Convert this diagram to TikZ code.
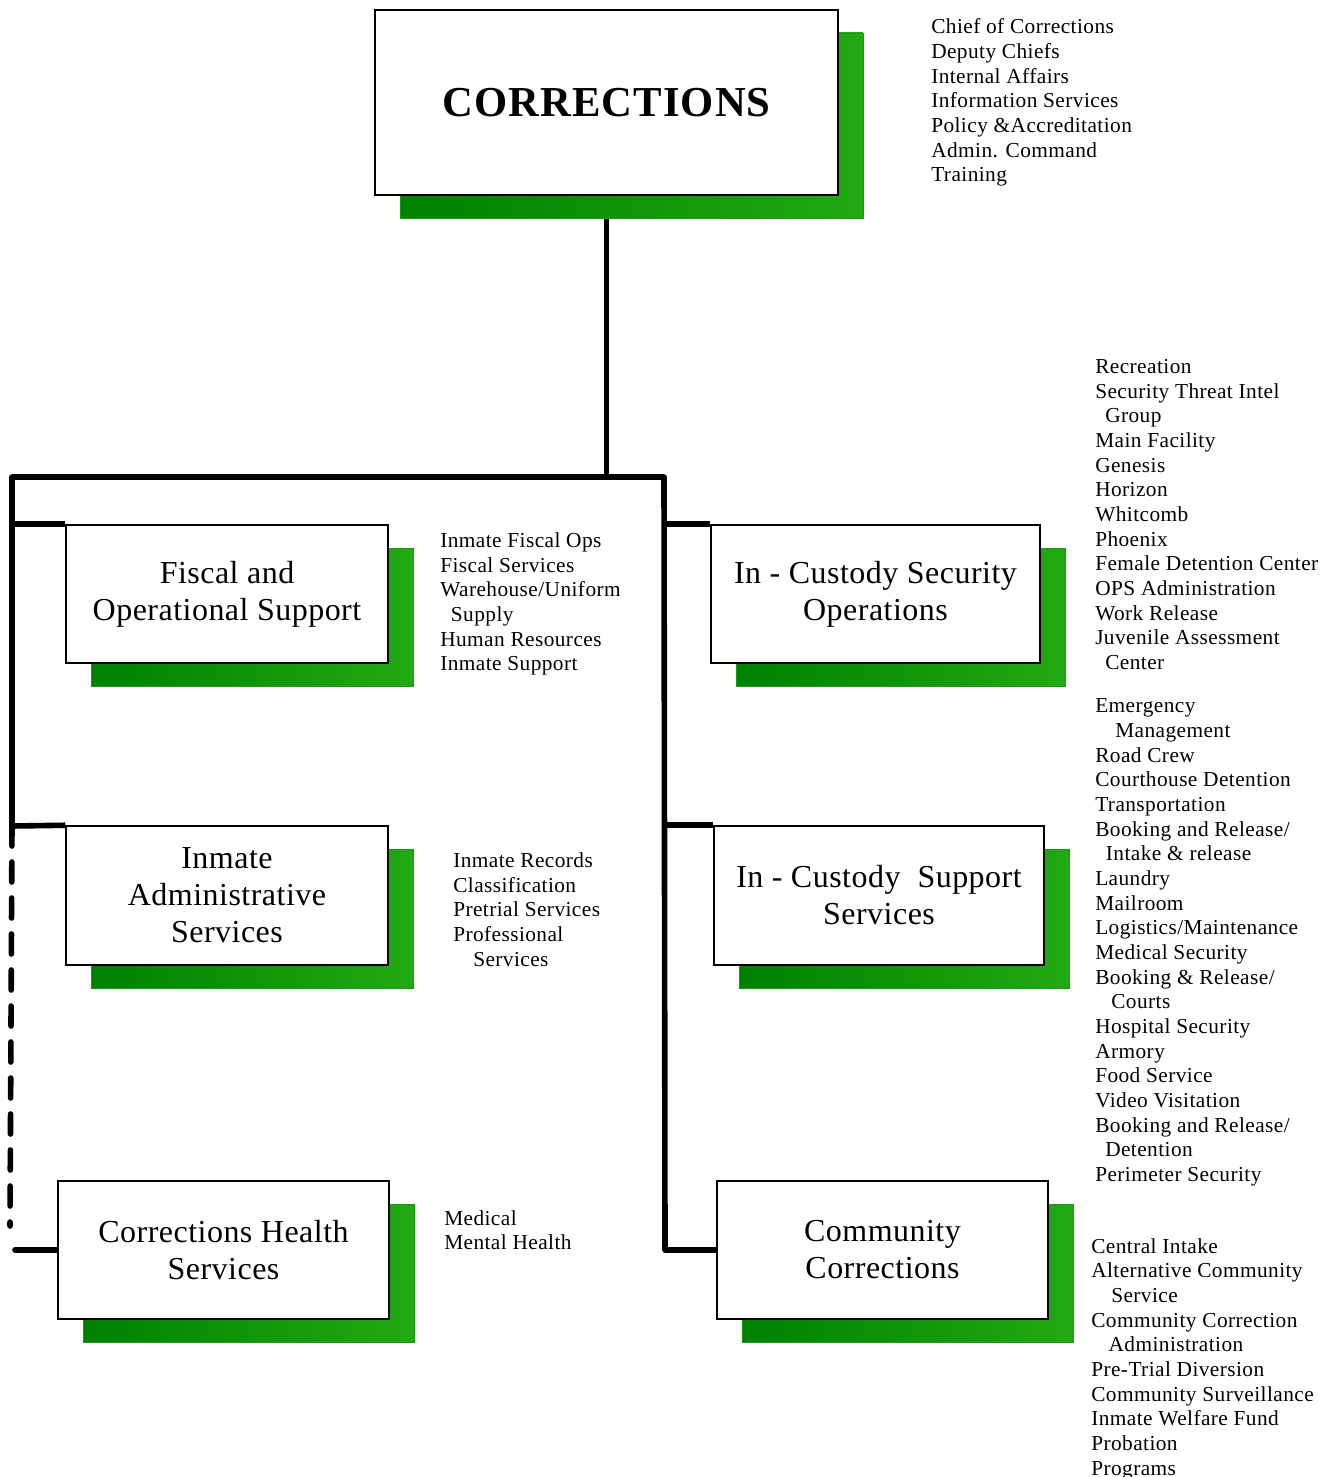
\documentclass[tikz,border=0pt]{standalone}
\usepackage{fontspec}
\setmainfont{Liberation Serif}
\newfontfamily\listfont[LetterSpace=2]{Liberation Serif}
\newfontfamily\boxfont[LetterSpace=1.5]{Liberation Serif}
\newfontfamily\headfont[LetterSpace=2.5]{Liberation Serif}
\usetikzlibrary{shadows}
\definecolor{corrGreenDk}{HTML}{008000}
\definecolor{corrGreenLt}{HTML}{22AA11}
\definecolor{corrEdge}{HTML}{189A10}
\pgfdeclarelayer{background}
\pgfsetlayers{background,main}
\tikzset{
  unitbox/.style={rectangle,draw=black,line width=1.1pt,fill=white,align=center,
    font=\boxfont\fontsize{24}{27.75}\selectfont,
    drop shadow={shadow xshift=18.75pt,shadow yshift=-17.25pt,opacity=1,
      left color=corrGreenDk,right color=corrGreenLt,draw=corrEdge,line width=0.6pt}},
  headbox/.style={unitbox,font=\headfont\bfseries\fontsize{32}{36}\selectfont},
  sublist/.style={anchor=north west,inner sep=0pt,align=left,
    font=\listfont\fontsize{16}{18.5}\selectfont},
  trunk/.style={line width=4.2pt,line join=round},
  dashtrunk/.style={line width=4.2pt,dash pattern=on 15pt off 12pt,line cap=round}
}

\begin{document}
\begin{tikzpicture}[x=0.75pt,y=-0.75pt]
\useasboundingbox (0,0) rectangle (1334,1477);

% boxes
\node[headbox,minimum width=347.25pt,minimum height=138.75pt] (top) at (606.5,102.5) {CORRECTIONS};
\node[unitbox,minimum width=241.5pt,minimum height=103.5pt] (fiscal) at (227,594)
  {Fiscal and\\Operational Support};
\node[unitbox,minimum width=241.5pt,minimum height=104.25pt] (inmate) at (227,895.5)
  {Inmate\\Administrative\\Services};
\node[unitbox,minimum width=248.25pt,minimum height=103.5pt] (health) at (223.5,1250)
  {Corrections Health\\Services};
\node[unitbox,minimum width=246.75pt,minimum height=103.5pt] (icso) at (875.5,594)
  {In - Custody Security\\Operations};
\node[unitbox,minimum width=247.5pt,minimum height=104.25pt] (icss) at (879,895.5)
  {In - Custody\ \ Support\\Services};
\node[unitbox,minimum width=248.25pt,minimum height=103.5pt] (community) at (882.5,1250)
  {Community\\Corrections};

% sections under each unit
\node[sublist] (topList) at (931,18.5)
  {Chief of Corrections\\Deputy Chiefs\\Internal Affairs\\Information Services\\
   Policy \&Accreditation\\Admin. Command\\Training};
\node[sublist] (fiscalList) at (440,532.5)
  {Inmate Fiscal Ops\\Fiscal Services\\Warehouse/Uniform\\\hspace*{8pt}Supply\\
   Human Resources\\Inmate Support};
\node[sublist] (inmateList) at (453,852.5)
  {Inmate Records\\Classification\\Pretrial Services\\Professional\\
   \hspace*{15pt}Services};
\node[sublist] (healthList) at (444,1210)
  {Medical\\Mental Health};
\node[sublist] (icsoList) at (1095,359)
  {Recreation\\Security Threat Intel\\\hspace*{7.5pt}Group\\Main Facility\\Genesis\\
   Horizon\\Whitcomb\\Phoenix\\Female Detention Center\\OPS Administration\\
   Work Release\\Juvenile Assessment\\\hspace*{7.5pt}Center};
\node[sublist] (icssList) at (1095,698.5)
  {Emergency\\\hspace*{15pt}Management\\Road Crew\\Courthouse Detention\\
   Transportation\\Booking and Release/\\\hspace*{8pt}Intake \& release\\Laundry\\
   Mailroom\\Logistics/Maintenance\\Medical Security\\Booking \& Release/\\
   \hspace*{12pt}Courts\\Hospital Security\\Armory\\Food Service\\Video Visitation\\
   Booking and Release/\\\hspace*{7.5pt}Detention\\Perimeter Security};
\node[sublist] (commList) at (1091,1238)
  {Central Intake\\Alternative Community\\\hspace*{15pt}Service\\
   Community Correction\\\hspace*{13pt}Administration\\Pre-Trial Diversion\\
   Community Surveillance\\Inmate Welfare Fund\\Probation\\Programs};

% reporting lines, kept under the boxes
\coordinate (busL) at (12,477);
\coordinate (busR) at (664,477);
\coordinate (dashTop) at (12,826);
\coordinate (dashEnd) at (10,1226);
\coordinate (healthStub) at (15,1250);
\coordinate (commTurn) at (665,1250);
\begin{pgfonlayer}{background}
\draw[trunk] (top.south) -- (top.south |- busL);
\draw[trunk] (dashTop) -- (busL) -- (busR) -- (commTurn) -- (community.west);
\draw[trunk] (fiscal.north west) -- (fiscal.north west -| busL);
\draw[trunk] (inmate.north west) -- (dashTop);
\draw[trunk] (icso.north west) -- (icso.north west -| busR);
\draw[trunk] (icss.north west) -- (icss.north west -| busR);
\draw[dashtrunk] (dashTop) -- (dashEnd);
\draw[trunk,line cap=round] (healthStub) -- (health.west);
\end{pgfonlayer}
\end{tikzpicture}
\end{document}
